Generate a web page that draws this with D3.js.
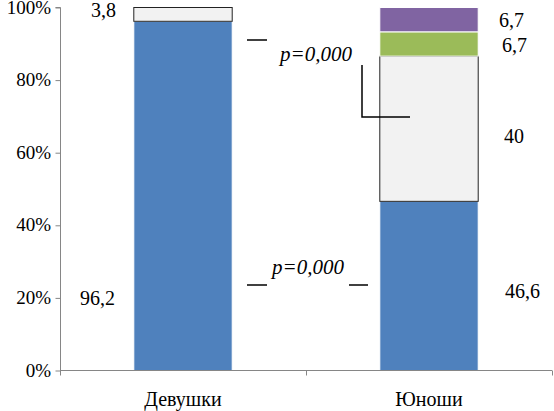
<!DOCTYPE html>
<html>
<head>
<meta charset="utf-8">
<script src="https://cdn.jsdelivr.net/npm/d3@7"></script>
<style>
  body { margin: 0; background: #fff; }
</style>
</head>
<body>
<svg id="chart" width="554" height="411"></svg>
<script>
// Data
const categories = ["Девушки", "Юноши"];
const seriesNames = ["s1", "s2", "s3", "s4"];
const seriesColors = ["#4F81BD", "#F2F2F2", "#9BBB59", "#8064A2"];
const girlsValues = [96.2, 3.8, 0, 0];
const boysValues = [46.6, 40, 6.7, 6.7];
const valueLabels = [
  ["96,2", "3,8", "", ""],
  ["46,6", "40", "6,7", "6,7"]
];
const yTicks = [0, 0.2, 0.4, 0.6, 0.8, 1];

const serif = () => '"Liberation Serif"';

const rows = categories.map((c, i) => {
  const vals = i === 0 ? girlsValues : boysValues;
  const row = { cat: c };
  seriesNames.forEach((s, j) => (row[s] = vals[j] / 100));
  return row;
});

const svg = d3.select("#chart");
const x = d3.scaleBand().domain(categories).range([60, 552]);
const y = d3.scaleLinear().domain([0, 1]).range([370.5, 7.5]);
const barW = x.bandwidth() * 0.4;
const barX = (c) => x(c) + x.bandwidth() * 0.3;

const stacked = d3.stack().keys(seriesNames)(rows);

// bars
const layers = svg.append("g").selectAll("g")
  .data(stacked)
  .join("g")
  .attr("fill", (d, i) => seriesColors[i]);

layers.selectAll("rect")
  .data((d) => d.map((p) => ({ p, key: d.key })))
  .join("rect")
  .filter((d) => d.p[1] - d.p[0] > 0)
  .attr("x", (d) => barX(d.p.data.cat))
  .attr("width", barW)
  .attr("y", (d) => y(d.p[1]))
  .attr("height", (d) => y(d.p[0]) - y(d.p[1]))
  .attr("stroke", (d) => (d.key === "s2" ? "#222" : "#fff"))
  .attr("stroke-width", 1);

// y axis lines only; labels drawn as plain text below
const yAxis = svg.append("g")
  .attr("transform", "translate(60.5,0)")
  .call(d3.axisLeft(y).tickValues(yTicks).tickFormat("").tickSize(5));
yAxis.select(".domain").attr("stroke", "#868686").attr("d", "M-5,7.5H0V370.5");
yAxis.selectAll(".tick line").attr("stroke", "#868686");

const fmt = d3.format(".0%");
svg.append("g").selectAll("text")
  .data(yTicks)
  .join("text")
  .attr("x", 51)
  .attr("y", (d) => y(d) + 6)
  .attr("text-anchor", "end")
  .attr("font-size", 19)
  .style("font-family", serif)
  .text((d) => fmt(d));

// x axis
const xAxis = svg.append("g")
  .attr("transform", "translate(0,370.5)");
xAxis.append("line").attr("x1", 60).attr("x2", 552).attr("stroke", "#868686");
xAxis.selectAll("line.tk")
  .data([60, ...categories.map((c) => x(c) + x.bandwidth())])
  .join("line")
  .attr("class", "tk")
  .attr("x1", (d) => d + 0.5).attr("x2", (d) => d + 0.5)
  .attr("y1", 0).attr("y2", 5)
  .attr("stroke", "#868686");

svg.append("g").selectAll("text")
  .data(categories)
  .join("text")
  .attr("x", (d) => x(d) + x.bandwidth() / 2)
  .attr("y", 406)
  .attr("text-anchor", "middle")
  .attr("font-size", 20)
  .style("font-family", serif)
  .text((d) => d);

// value labels
const labelPos = [
  [{ x: 115, y: 305, a: "end" }, { x: 116, y: 17, a: "end" }, null, null],
  [{ x: 505, y: 298, a: "start" }, { x: 504, y: 143, a: "start" }, { x: 502, y: 52, a: "start" }, { x: 499, y: 27, a: "start" }]
];
const labelData = [];
categories.forEach((c, i) => {
  valueLabels[i].forEach((t, j) => {
    if (t) labelData.push({ t, ...labelPos[i][j] });
  });
});
svg.append("g").selectAll("text")
  .data(labelData)
  .join("text")
  .attr("x", (d) => d.x).attr("y", (d) => d.y)
  .attr("text-anchor", (d) => d.a)
  .attr("font-size", 20)
  .style("font-family", serif)
  .text((d) => d.t);

// significance annotations
const ann = svg.append("g").attr("stroke", "#000").attr("stroke-width", 1.5).attr("fill", "none");
ann.append("line").attr("x1", 247).attr("x2", 267).attr("y1", 40).attr("y2", 40);
ann.append("path").attr("d", "M362,65V117H410");
ann.append("line").attr("x1", 247).attr("x2", 267).attr("y1", 285).attr("y2", 285);
ann.append("line").attr("x1", 349).attr("x2", 368).attr("y1", 285).attr("y2", 285);

svg.append("g").selectAll("text")
  .data([{ x: 280, y: 61 }, { x: 272, y: 274 }])
  .join("text")
  .attr("x", (d) => d.x).attr("y", (d) => d.y)
  .attr("font-size", 21)
  .style("font-family", serif)
  .style("font-style", "italic")
  .text("p=0,000");
</script>
</body>
</html>
